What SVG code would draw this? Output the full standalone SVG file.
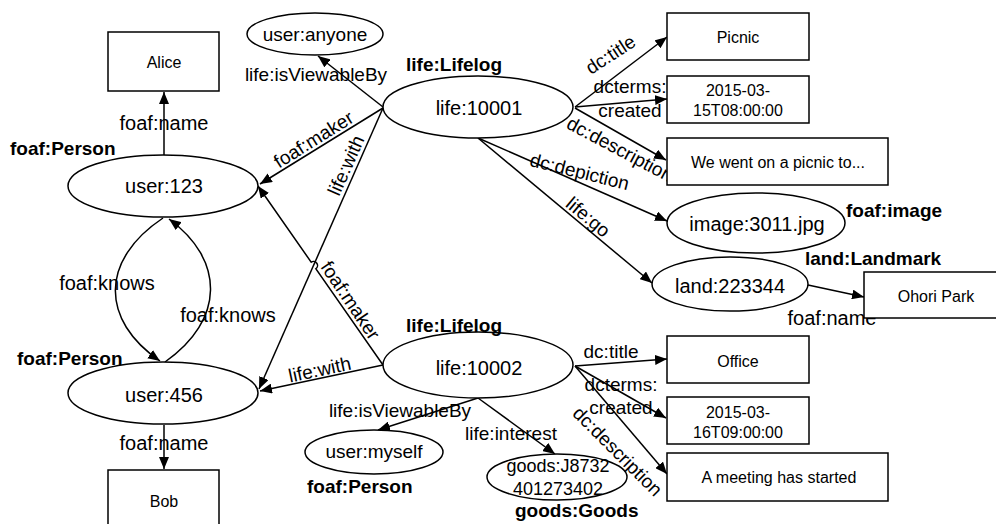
<svg xmlns="http://www.w3.org/2000/svg" width="996" height="524" viewBox="0 0 996 524">
<defs>
<marker id="arr" viewBox="0 0 12 10" refX="12" refY="5" markerWidth="12" markerHeight="10" orient="auto" markerUnits="userSpaceOnUse"><path d="M0,0 L12,5 L0,10 z" fill="#000"/></marker>
<style>
.n{fill:#fff;stroke:#000;stroke-width:1.5}
.e{fill:none;stroke:#000;stroke-width:1.5;marker-end:url(#arr)}
text{font-family:"Liberation Sans",Arial,sans-serif;fill:#000}
.t{font-size:19px;text-anchor:middle}
.b{font-size:16px;text-anchor:middle}
.l{font-size:19px;text-anchor:middle}
.k{font-size:19px;font-weight:bold}
.d{font-size:20px}
</style>
</defs>
<rect width="996" height="524" fill="#fff"/>
<g id="connectors">
<path class="e" d="M164,155 L164,92"/>
<path class="e" d="M164,425 L164,469"/>
<path class="e" d="M163,218 C100,260 100,320 160,361"/>
<path class="e" d="M165,362 C225,320 225,260 169,219"/>
<path class="e" d="M383,107 L318,56"/>
<path class="e" d="M383,108 L260,184"/>
<path class="e" d="M383,108 L259,389"/>
<path class="e" d="M383,365 L315.8,268.8 A4,4 0 0 0 311.2,262.2 L258,186"/>
<path class="e" d="M383,365 L260,391"/>
<path class="e" d="M478,398 L378,430"/>
<path class="e" d="M478,398 L555,454"/>
<path class="e" d="M575,107 L667,37"/>
<path class="e" d="M575,107 L667,99"/>
<path class="e" d="M575,108 L666,160"/>
<path class="e" d="M478,138 L667,221"/>
<path class="e" d="M478,138 L652,283"/>
<path class="e" d="M808,285 L864,297"/>
<path class="e" d="M575,366 L667,359"/>
<path class="e" d="M575,366 L666,418"/>
<path class="e" d="M575,366 L667,474"/>
<text class="l d" x="164" y="130">foaf:name</text>
<text class="l d" x="164" y="450">foaf:name</text>
<text class="l d" x="107" y="290">foaf:knows</text>
<text class="l d" x="228" y="322">foaf:knows</text>
<text class="l" x="316" y="81">life:isViewableBy</text>
<text class="l" transform="translate(317,145) rotate(-32)">foaf:maker</text>
<text class="l" transform="translate(352,168) rotate(-66)">life:with</text>
<text class="l" transform="translate(345,304) rotate(56)">foaf:maker</text>
<text class="l" transform="translate(321,376) rotate(-12)">life:with</text>
<text class="l" x="400" y="417">life:isViewableBy</text>
<text class="l" x="511" y="440">life:interest</text>
<text class="l" transform="translate(614,60) rotate(-33)">dc:title</text>
<text class="l" x="630" y="93">dcterms:</text>
<text class="l" x="630" y="117">created</text>
<text class="l" transform="translate(617,155) rotate(28)">dc:description</text>
<text class="l" transform="translate(578,178) rotate(14)">dc:depiction</text>
<text class="l" transform="translate(584,222) rotate(40)">life:go</text>
<text class="l d" x="832" y="325">foaf:name</text>
<text class="l" x="611" y="358">dc:title</text>
<text class="l" x="621" y="391">dcterms:</text>
<text class="l" x="621" y="414">created</text>
<text class="l" transform="translate(613,456) rotate(45)">dc:description</text>
</g>
<g id="alice"><rect class="n" x="108" y="32" width="111" height="59"/><text class="b" x="164" y="68">Alice</text></g>
<g id="bob"><rect class="n" x="108" y="470" width="111" height="60"/><text class="b" x="164" y="507">Bob</text></g>
<g id="user-anyone"><ellipse class="n" cx="315" cy="34" rx="68" ry="21"/><text class="t" x="315" y="41">user:anyone</text></g>
<g id="life-10001"><ellipse class="n" cx="478" cy="107" rx="95" ry="31"/><text class="t d" x="479" y="115">life:10001</text><text class="k" x="406" y="71">life:Lifelog</text></g>
<g id="user-123"><ellipse class="n" cx="163" cy="186" rx="95" ry="31"/><text class="t d" x="164" y="193">user:123</text><text class="k" x="10" y="155">foaf:Person</text></g>
<g id="user-456"><ellipse class="n" cx="163" cy="393" rx="95" ry="31"/><text class="t d" x="164" y="402">user:456</text><text class="k" x="17" y="365">foaf:Person</text></g>
<g id="picnic"><rect class="n" x="667" y="13" width="142" height="47"/><text class="b" x="738" y="43">Picnic</text></g>
<g id="date1"><rect class="n" x="667" y="76" width="142" height="47"/><text class="b" x="738" y="96">2015-03-</text><text class="b" x="738" y="116">15T08:00:00</text></g>
<g id="desc1"><rect class="n" x="667" y="138" width="221" height="47"/><text class="b" x="778" y="168">We went on a picnic to...</text></g>
<g id="image"><ellipse class="n" cx="756" cy="223" rx="89" ry="30"/><text class="t d" x="757" y="231">image:3011.jpg</text><text class="k" x="846" y="217">foaf:image</text></g>
<g id="land"><ellipse class="n" cx="730" cy="284" rx="78" ry="27"/><text class="t d" x="730" y="293">land:223344</text><text class="k" x="805" y="265">land:Landmark</text></g>
<g id="ohori"><rect class="n" x="864" y="272" width="142" height="46"/><text class="b" x="936" y="302">Ohori Park</text></g>
<g id="life-10002"><ellipse class="n" cx="478" cy="365" rx="95" ry="33"/><text class="t d" x="479" y="375">life:10002</text><text class="k" x="406" y="332">life:Lifelog</text></g>
<g id="user-myself"><ellipse class="n" cx="374" cy="452" rx="69" ry="22"/><text class="t" x="374" y="458">user:myself</text><text class="k" x="307" y="493">foaf:Person</text></g>
<g id="goods"><ellipse class="n" cx="557" cy="477" rx="70" ry="23"/><text class="t" x="558" y="472" style="font-size:18px">goods:J8732</text><text class="t" x="558" y="495" style="font-size:18px">401273402</text><text class="k" x="515" y="517">goods:Goods</text></g>
<g id="office"><rect class="n" x="667" y="336" width="142" height="47"/><text class="b" x="738" y="367">Office</text></g>
<g id="date2"><rect class="n" x="667" y="397" width="142" height="47"/><text class="b" x="738" y="418">2015-03-</text><text class="b" x="738" y="438">16T09:00:00</text></g>
<g id="desc2"><rect class="n" x="667" y="453" width="221" height="48"/><text class="b" x="779" y="483">A meeting has started</text></g>
</svg>
